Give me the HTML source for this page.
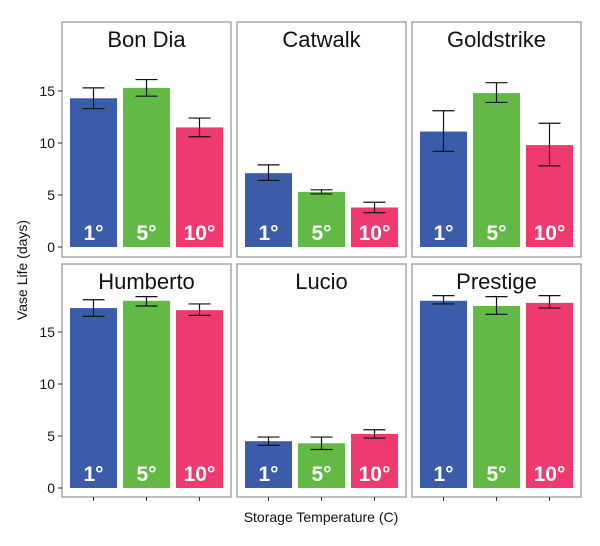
<!DOCTYPE html>
<html><head><meta charset="utf-8"><style>
body{margin:0;background:#fff;}
svg text{font-family:"Liberation Sans",sans-serif;}
</style></head><body>
<svg id="c" width="600" height="541" xmlns="http://www.w3.org/2000/svg"></svg>
<script>
const panels = ["Bon Dia","Catwalk","Goldstrike","Humberto","Lucio","Prestige"];
const temps = ["1°","5°","10°"];
const means = [[14.3,15.3,11.5],[7.1,5.3,3.8],[11.1,14.8,9.8],[17.3,18.0,17.1],[4.5,4.3,5.2],[18.0,17.5,17.8]];
const lows = [[13.3,14.5,10.6],[6.4,5.1,3.3],[9.2,13.9,7.8],[16.5,17.5,16.6],[4.1,3.7,4.8],[17.7,16.7,17.3]];
const highs = [[15.3,16.1,12.4],[7.9,5.5,4.3],[13.1,15.8,11.9],[18.1,18.4,17.7],[4.9,4.9,5.6],[18.5,18.4,18.5]];
const yTicks = [0,5,10,15];
const colors = ["#3b5ca9","#62b946","#ef3a6f"];
const svg = document.getElementById('c');
const NS = "http://www.w3.org/2000/svg";
function mk(tag, attrs, parent){const e=document.createElementNS(NS,tag);for(const k in attrs)e.setAttribute(k,attrs[k]);(parent||svg).appendChild(e);return e;}
const panelX=[62,237,412], panelTop=[22,264], zeroY=[247,488], pw=169, ph=[235,233];
const scale=10.4;
panels.forEach((name,pi)=>{
  const col=pi%3,row=Math.floor(pi/3);
  const x0=panelX[col], y0=panelTop[row], zy=zeroY[row];
  const g=mk('g',{});
  
  
  mk('rect',{x:x0,y:y0,width:pw,height:ph[row],fill:'#fff',stroke:'#9a9a9a','stroke-width':1.3},g);
  const t=mk('text',{x:x0+pw/2,y:y0+25,'text-anchor':'middle','font-size':22,fill:'#111'},g);
  t.textContent=name;
  
  
  const Y=v=>zy-v*scale;
  if(col===0){
    yTicks.forEach(v=>{
      mk('line',{x1:x0-4,x2:x0,y1:Y(v),y2:Y(v),stroke:'#333'},g);
      const tt=mk('text',{x:x0-7,y:Y(v)+5,'text-anchor':'end','font-size':14,fill:'#111'},g);
      tt.textContent=v;
      
      
    });
  }
  temps.forEach((tl,i)=>{
    const bx=x0+8+i*53, cx=bx+23.5;
    const b=mk('rect',{x:bx,y:Y(means[pi][i]),width:47,height:means[pi][i]*scale,fill:colors[i]},g);
    
    
    const e=mk('g',{stroke:'#111','stroke-width':1.2},g);
    
    
    mk('line',{x1:cx,x2:cx,y1:Y(lows[pi][i]),y2:Y(highs[pi][i])},e);
    mk('line',{x1:cx-11,x2:cx+11,y1:Y(lows[pi][i]),y2:Y(lows[pi][i])},e);
    mk('line',{x1:cx-11,x2:cx+11,y1:Y(highs[pi][i]),y2:Y(highs[pi][i])},e);
    const lb=mk('text',{x:cx,y:zy-7,'text-anchor':'middle','font-size':21,'font-weight':'bold',fill:'#fff'},g);
    lb.textContent=tl;
    
    
    if(row===1) mk('line',{x1:cx,x2:cx,y1:y0+ph[row],y2:y0+ph[row]+4,stroke:'#333'},g);
  });
});
const yl=mk('text',{x:0,y:0,transform:'translate(27,270) rotate(-90)','text-anchor':'middle','font-size':14,fill:'#111'});
yl.textContent='Vase Life (days)';


const xl=mk('text',{x:321,y:522,'text-anchor':'middle','font-size':14,fill:'#111'});
xl.textContent='Storage Temperature (C)';


</script>
</body></html>
